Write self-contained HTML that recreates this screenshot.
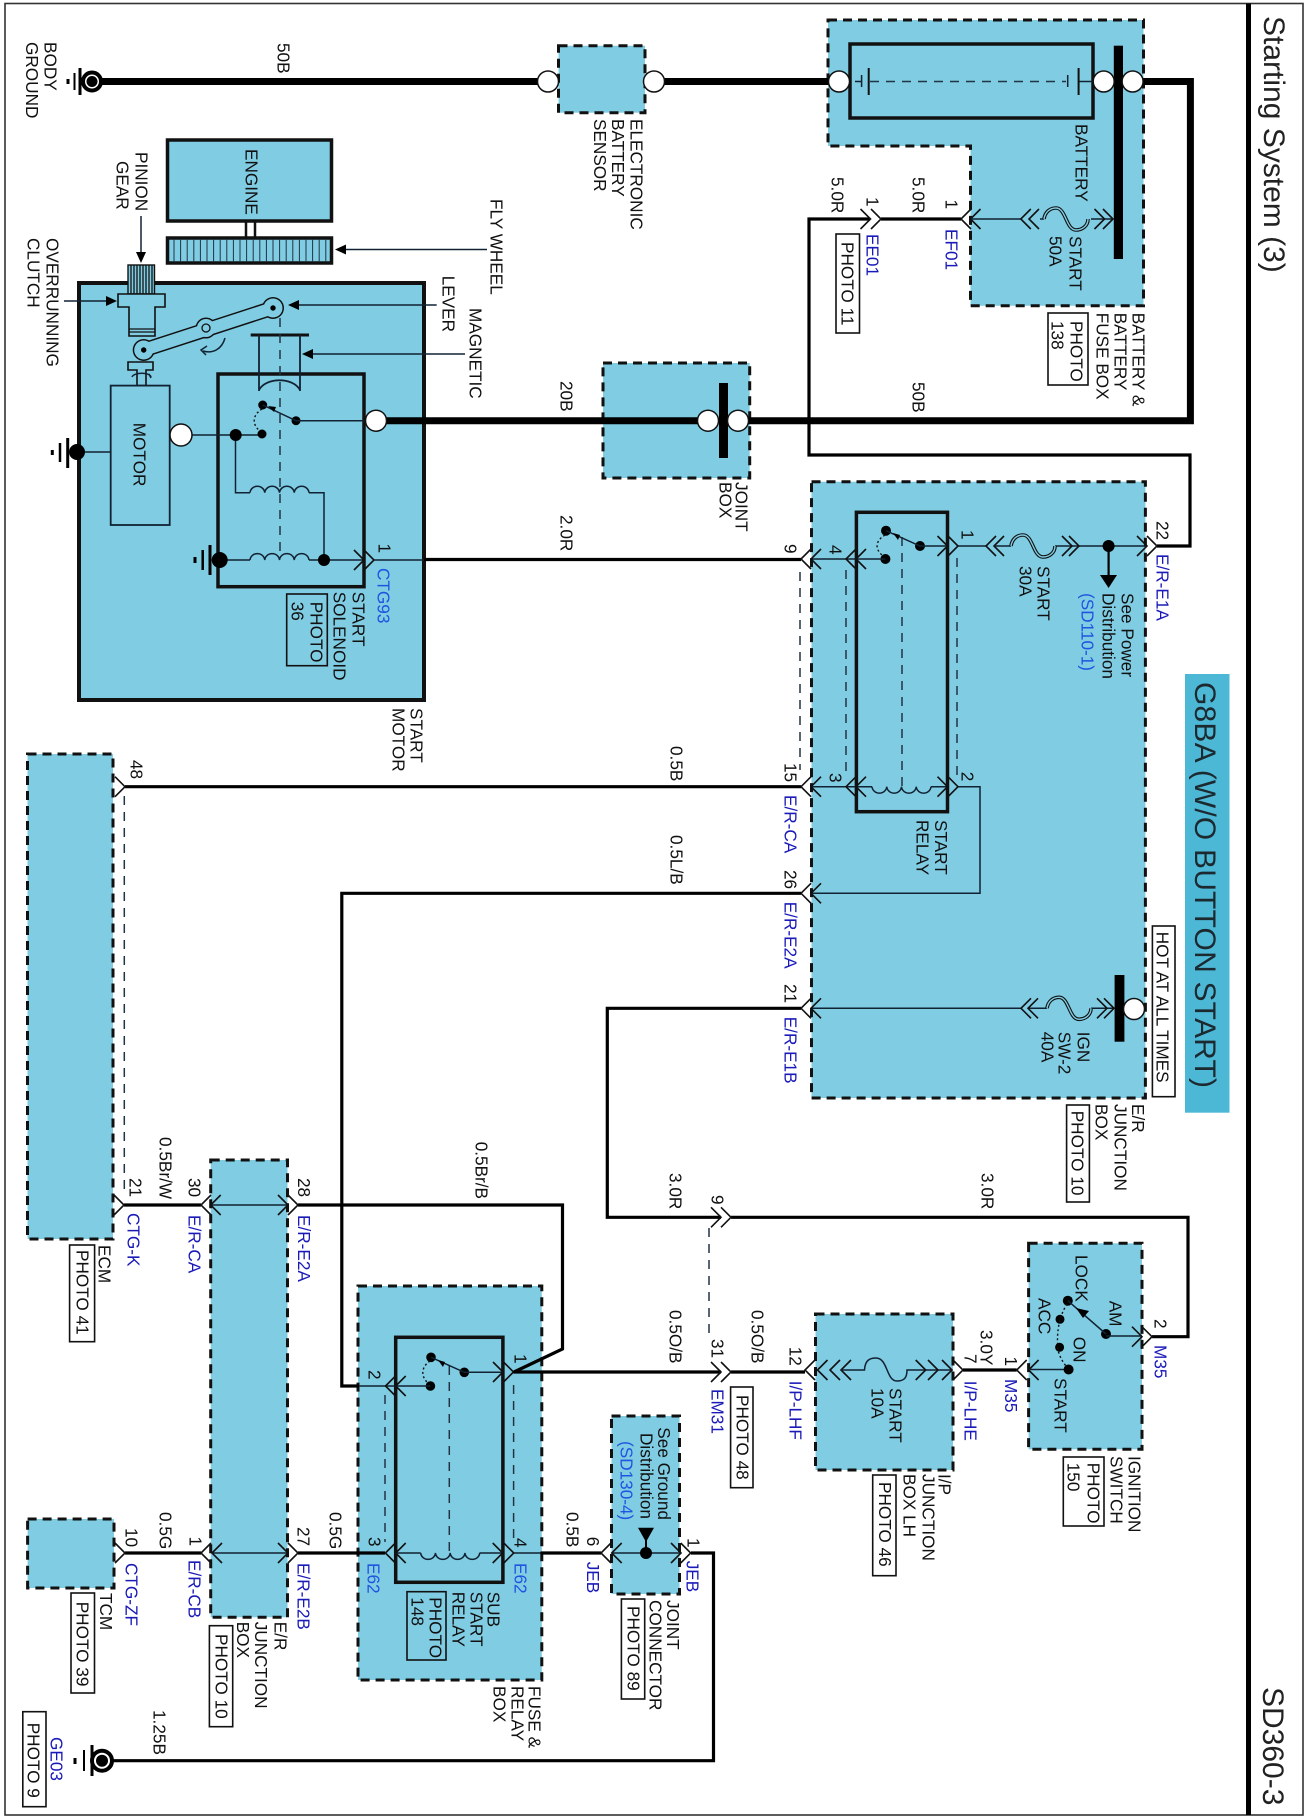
<!DOCTYPE html>
<html><head><meta charset="utf-8"><style>
html,body{margin:0;padding:0;background:#fff}
svg{display:block}
text{font-family:"Liberation Sans",sans-serif;font-size:17.2px;fill:#111}
.bl{fill:#1a1ab8}.lb{fill:#1f55e0}
.big{font-size:30px;fill:#222}
.ban{font-size:30px;fill:#1c2a30}
.d{fill:#80cce3;stroke:#111;stroke-width:3;stroke-dasharray:9 6}
.s{fill:#80cce3;stroke:#111;stroke-width:3.5}
.n{fill:none;stroke:#111;stroke-width:3.5}
.p{fill:#fff;stroke:#111;stroke-width:1.6}
.w1{fill:none;stroke:#123;stroke-width:1.5}
.w3{fill:none;stroke:#000;stroke-width:3.2}
.w7{fill:none;stroke:#000;stroke-width:7}
.da{fill:none;stroke:#234;stroke-width:1.5;stroke-dasharray:9 7}
.do{fill:none;stroke:#111;stroke-width:1.4;stroke-dasharray:2 2.5}
.c{fill:none;stroke:#111;stroke-width:1.6}
.o{fill:#fff;stroke:#111;stroke-width:1.5}
.k{fill:#000;stroke:none}
</style></head><body>
<svg xmlns="http://www.w3.org/2000/svg" width="1307" height="1819" viewBox="0 0 1307 1819">
<defs>
<path id="r" class="c" d="M-10,-10L0,0L-10,10"/>
<path id="l" class="c" d="M10,-10L0,0L10,10"/>
<g id="f"><path d="M0,0C1,-7 6,-11 12,-11C22,-11 22,11 32,11C38,11 44,7 44,0" fill="none" stroke="#111" stroke-width="3.6"/><path d="M0,0C1,-7 6,-11 12,-11C22,-11 22,11 32,11C38,11 44,7 44,0" fill="none" stroke="#80cce3" stroke-width="1.4"/></g>
<path id="cu" class="w1" d="M0,0a7.4,7 0 0 1 14.75,0a7.4,7 0 0 1 14.75,0a7.4,7 0 0 1 14.75,0a7.4,7 0 0 1 14.75,0"/>
<path id="cd" class="w1" d="M0,0a7.4,7 0 0 0 14.75,0a7.4,7 0 0 0 14.75,0a7.4,7 0 0 0 14.75,0a7.4,7 0 0 0 14.75,0"/>
</defs>
<rect width="1307" height="1819" fill="#fff"/>
<rect x="5" y="3.5" width="1298" height="1811.5" fill="none" stroke="#333" stroke-width="1.6"/>
<rect x="1246" y="3.5" width="5" height="1811.5" fill="#000"/>
<rect x="1185" y="674" width="44.5" height="438.7" fill="#4db8d6"/>

<!-- dashed boxes -->
<rect class="d" x="558.5" y="45.7" width="86.5" height="67"/>
<path class="d" d="M828,20H1143.5V305.7H970.5V146H828Z"/>
<rect class="d" x="603" y="363" width="146.7" height="115"/>
<rect class="d" x="811.5" y="481.7" width="333.9" height="616.3"/>
<rect class="d" x="27.5" y="754" width="85.5" height="485"/>
<rect class="d" x="210.7" y="1160" width="76.8" height="457.3"/>
<rect class="d" x="358" y="1286" width="183.8" height="394"/>
<rect class="d" x="611.5" y="1416" width="68" height="178"/>
<rect class="d" x="815.5" y="1314" width="137.5" height="156"/>
<rect class="d" x="1028.6" y="1243.3" width="113.4" height="206"/>
<rect class="d" x="27.6" y="1519" width="86.4" height="69"/>

<!-- start motor -->
<rect x="79" y="283" width="345" height="417" fill="#80cce3" stroke="#111" stroke-width="4"/>
<rect class="n" x="218" y="374" width="146" height="212.7"/>

<!-- engine + flywheel -->
<rect class="s" x="167.5" y="140" width="164" height="81"/>
<path d="M246,221V238M255,221V238" stroke="#111" stroke-width="2.5" fill="none"/>
<rect class="s" x="167.5" y="238" width="164" height="25" stroke-width="3"/>
<path d="M174,239V262M180.6,239V262M187.2,239V262M193.8,239V262M200.4,239V262M207,239V262M213.6,239V262M220.2,239V262M226.8,239V262M233.4,239V262M240,239V262M246.6,239V262M253.2,239V262M259.8,239V262M266.4,239V262M273,239V262M279.6,239V262M286.2,239V262M292.8,239V262M299.4,239V262M306,239V262M312.6,239V262M319.2,239V262M325.8,239V262" stroke="#234" stroke-width="1" fill="none"/>
<!-- pinion, clutch -->
<rect x="128" y="265" width="26.5" height="29" fill="#80cce3" stroke="#111" stroke-width="1.4"/>
<path d="M131,265V294M134,265V294M137,265V294M140,265V294M143,265V294M146,265V294M149,265V294M152,265V294" stroke="#111" stroke-width="1.3" fill="none"/>
<path d="M118,294H165V307H155V336H129V307H118Z" fill="#80cce3" stroke="#111" stroke-width="1.6"/>
<path d="M129,329H155M129,332H155" stroke="#111" stroke-width="1.2"/>
<!-- lever -->
<path d="M143.7,350L273,308" stroke="#111" stroke-width="15"/>
<circle cx="143.7" cy="350" r="11" fill="#111"/><circle cx="206" cy="328" r="10.5" fill="#111"/><circle cx="273" cy="308" r="11" fill="#111"/>
<path d="M143.7,350L273,308" stroke="#80cce3" stroke-width="12"/>
<circle cx="143.7" cy="350" r="9.5" fill="#80cce3"/><circle cx="206" cy="328" r="9" fill="#80cce3"/><circle cx="273" cy="308" r="9.5" fill="#80cce3"/>
<circle cx="143.7" cy="350" r="2.7" fill="#000"/><circle cx="273" cy="308" r="2.7" fill="#000"/>
<circle cx="206" cy="328" r="4" fill="#80cce3" stroke="#111" stroke-width="1.3"/>
<path d="M225,338C222,349 213,354 203,351" class="w1"/><path d="M207,346L201,350L206,355" class="w1"/>
<!-- motor -->
<path d="M128,362H153V370H146V385.6H137V370H128Z" fill="#80cce3" stroke="#111" stroke-width="1.6"/>
<path d="M132,377C134,372 150,372 151,377M149,374L151,378" class="w1"/>
<rect x="110.7" y="385.6" width="59" height="139.4" fill="#80cce3" stroke="#123" stroke-width="1.8"/>
<!-- magnetic -->
<path d="M250.7,335H309" stroke="#111" stroke-width="3"/>
<path d="M259,335V391M300,335V391M259,390C266,377 293,377 300,390" fill="none" stroke="#123" stroke-width="1.8"/>
<path class="da" d="M280,318V553"/>
<path d="M192,435H262M235.5,435V492.7H250M309,492.7H324V560M227,560H250M309,560H364" class="w1"/>
<use href="#cu" x="250" y="492.7"/><use href="#cu" x="250" y="560"/>
<circle class="k" cx="235.7" cy="435" r="6"/><circle class="k" cx="262" cy="434" r="4.5"/>
<circle class="k" cx="262.7" cy="405" r="4.5"/><circle class="k" cx="296" cy="420.7" r="4.5"/>
<path d="M262.7,405L296,420.7M296,420.7H365" class="w1"/><path class="do" d="M262,409C252,415 252,425 260,431"/>
<path class="k" d="M268,406L276,407L274,412Z"/>
<circle class="k" cx="219.7" cy="560" r="8"/><circle class="k" cx="324" cy="560" r="6"/>
<use href="#r" x="364" y="560"/><use href="#r" x="374" y="560"/>
<path d="M374,560H424" class="w1"/><path d="M424,559.5H801" class="w3"/>
<!-- motor ground -->
<path d="M85,452H110.7" class="w1"/><circle class="k" cx="77" cy="452" r="8"/>
<path d="M67.7,438V468" stroke="#000" stroke-width="3"/><path d="M60,443V462" stroke="#000" stroke-width="2.5"/><path d="M52.3,450V455" stroke="#000" stroke-width="3"/>
<path d="M210,545V575" stroke="#000" stroke-width="3"/><path d="M202.7,550V570" stroke="#000" stroke-width="2.5"/><path d="M195,557V563" stroke="#000" stroke-width="3"/>
<!-- motor arrows -->
<path d="M487,249.5H345M141,216V253M64,301H108M436.7,305H298M465,354H312" class="w1" stroke="#111"/>
<path class="k" d="M335,249.5L346,244.5V254.5ZM141,263L136,252H146ZM117,301L106,296V306ZM288,305L299,300V310ZM302,354L313,349V359Z"/>

<!-- heavy wires -->
<path d="M95,81.5H548M654,81.5H839" class="w7"/>
<path d="M1132,81.5H1190.4V420.7H738" class="w7"/>
<path d="M376,420.7H708" class="w7"/>
<!-- grounds -->
<circle cx="92" cy="81.5" r="9" fill="#fff" stroke="#000" stroke-width="4"/><circle class="k" cx="92" cy="81.5" r="5.5"/>
<path d="M80,68V95" stroke="#000" stroke-width="3"/><path d="M74.5,73V90" stroke="#000" stroke-width="2"/><path d="M68,79V84" stroke="#000" stroke-width="3"/>
<circle cx="102" cy="1760.7" r="10" fill="#fff" stroke="#000" stroke-width="4"/><circle class="k" cx="102" cy="1760.7" r="6"/>
<path d="M92,1745V1776" stroke="#000" stroke-width="3"/><path d="M84,1750V1771" stroke="#000" stroke-width="2"/><path d="M75,1758V1764" stroke="#000" stroke-width="3"/>
<!-- buses -->
<rect class="k" x="1113.8" y="45.7" width="9.2" height="213.3"/>
<rect class="k" x="719" y="383" width="9" height="75"/>
<rect class="k" x="1114.6" y="975" width="9.8" height="66.7"/>
<!-- battery -->
<rect class="n" x="850" y="44" width="243" height="74"/>
<path d="M855,81.5H862M1078,81.5H1093" class="w1"/><path d="M861.6,75V87M1067.7,75V87" class="w1"/><path d="M868.7,68V95M1078.6,68V95" stroke="#111" stroke-width="2"/>
<path class="da" d="M870,81.5H1066"/>
<!-- round terminals -->
<circle class="o" cx="548" cy="81.5" r="10.5"/><circle class="o" cx="654" cy="81.5" r="10.5"/><circle class="o" cx="839" cy="81.5" r="10.5"/><circle class="o" cx="1103.7" cy="81.5" r="10.5"/><circle class="o" cx="1132.6" cy="81.5" r="10.5"/>
<circle class="o" cx="708" cy="420.7" r="10.5"/><circle class="o" cx="738" cy="420.7" r="10.5"/><circle class="o" cx="376" cy="420.7" r="10.5"/><circle class="o" cx="181" cy="435" r="11"/><circle class="o" cx="1134" cy="1009" r="10.5"/>

<!-- 5.0R -->
<path d="M870,219H809V455H1190V546H1157M881,219H961" class="w3"/>
<use href="#r" x="870.5" y="219"/><use href="#r" x="881" y="219"/><use href="#l" x="961" y="219"/><use href="#l" x="970.5" y="219"/>
<path d="M971,219H1021M1040,219H1044M1091,219H1113" class="w1"/>
<use href="#l" x="1020.8" y="219"/><use href="#l" x="1029" y="219"/><use href="#f" x="1044" y="219"/><use href="#r" x="1104.5" y="219"/><use href="#r" x="1113" y="219"/>

<!-- E/R junction internals -->
<rect class="n" x="856.4" y="512.3" width="91.1" height="299.4"/>
<path class="da" d="M800,572V770M846,570V775M902,537V786M957,558V775"/>
<circle class="k" cx="920" cy="546" r="5"/><circle class="k" cx="886" cy="530.7" r="5"/><circle class="k" cx="885.4" cy="559" r="5"/>
<path d="M886,530.7L920,546H947M885.4,559H811" class="w1"/><path class="do" d="M885,535C875,541 875,549 882,555"/>
<path class="k" d="M893,533L900,535L898,540Z"/>
<path d="M958,546H986M1055,546H1147" class="w1"/>
<use href="#r" x="947.5" y="546"/><use href="#r" x="958" y="546"/><use href="#l" x="986" y="546"/><use href="#l" x="994" y="546"/><path d="M994,546H1011" class="w1"/>
<use href="#f" x="1011" y="546"/><use href="#r" x="1072" y="546"/><use href="#r" x="1079" y="546"/>
<use href="#r" x="1147" y="546"/><use href="#r" x="1157" y="546"/>
<circle class="k" cx="1108.6" cy="546" r="6"/><path d="M1108.6,546V577" stroke="#000" stroke-width="2.2"/><path class="k" d="M1100,575H1117L1108.6,588Z"/>
<use href="#l" x="846" y="559"/><use href="#l" x="856" y="559"/><use href="#l" x="801" y="559"/><use href="#l" x="811" y="559"/>
<!-- coil / 15 / 26 -->
<path d="M811,786.7H872M931,786.7H947M958,786.7H980V893.3H811" class="w1"/>
<use href="#cd" x="872" y="786.7"/>
<use href="#l" x="846" y="786.7"/><use href="#l" x="856" y="786.7"/><use href="#r" x="947.5" y="786.7"/><use href="#r" x="958" y="786.7"/>
<use href="#l" x="801" y="786.7"/><use href="#l" x="811" y="786.7"/><use href="#l" x="801" y="893.3"/><use href="#l" x="811" y="893.3"/>
<path d="M125,786.7H801" class="w3"/><use href="#r" x="125" y="786.7"/>
<path class="da" d="M124.3,796V1195"/>
<path d="M801,893.3H341.8V1386H359" class="w3"/>
<!-- 21 / ign -->
<path d="M811,1008.3H1021M1028,1008.3H1047M1091,1008.3H1114" class="w1"/>
<use href="#l" x="801" y="1008.3"/><use href="#l" x="811" y="1008.3"/><use href="#l" x="1021" y="1008.3"/><use href="#l" x="1028" y="1008.3"/><use href="#f" x="1047" y="1008.3"/><use href="#r" x="1107" y="1008.3"/><use href="#r" x="1114" y="1008.3"/>
<path d="M801,1008.3H607.3V1217.3H721M731,1217.3H1188V1336.7H1152" class="w3"/>
<use href="#r" x="721" y="1217.3"/><use href="#r" x="731" y="1217.3"/>
<path class="da" d="M709,1228V1340"/>

<!-- y=1205 -->
<path d="M124,1205H201M298,1205H562.5V1349L514,1372" class="w3"/>
<path d="M211,1205H288" class="w1"/>
<use href="#r" x="124" y="1205"/><use href="#l" x="201" y="1205"/><use href="#l" x="210.7" y="1205"/><use href="#r" x="288" y="1205"/><use href="#r" x="298" y="1205"/>

<!-- sub relay -->
<rect class="n" x="395.7" y="1337.3" width="107.2" height="245"/>
<path class="da" d="M385,1395V1542M449.3,1366V1553M513.6,1385V1540"/>
<circle class="k" cx="431" cy="1357.3" r="4.8"/><circle class="k" cx="464.3" cy="1372.3" r="4.8"/><circle class="k" cx="430.4" cy="1386" r="4.8"/>
<path d="M431,1357.3L464.3,1372.3H503M430.4,1386H359" class="w1"/><path class="do" d="M430,1361C421,1367 421,1376 427,1382"/>
<path class="k" d="M438,1360L445,1362L443,1367Z"/>
<use href="#l" x="385.5" y="1386"/><use href="#l" x="395.7" y="1386"/><use href="#r" x="503" y="1372"/><use href="#r" x="513.5" y="1372"/>
<path d="M513.5,1372H721M731,1372H805" class="w3"/>
<use href="#r" x="721" y="1372"/><use href="#r" x="731" y="1372"/>
<!-- I/P -->
<use href="#l" x="805" y="1370"/><use href="#l" x="817.5" y="1370"/><use href="#l" x="830" y="1370"/><use href="#l" x="841" y="1370"/>
<path d="M841,1370H864.5C865,1360 870,1358 876,1358C888,1358 886,1381 897,1381C904,1381 907,1378 907,1370H952" class="w1"/>
<use href="#r" x="925.7" y="1370"/><use href="#r" x="938" y="1370"/><use href="#r" x="952" y="1370"/><use href="#r" x="963" y="1370"/>
<path d="M963,1370H1016.7" class="w3"/>
<use href="#l" x="1016.7" y="1370"/><use href="#l" x="1028.6" y="1370"/>
<path d="M1029,1369.5H1068.6" class="w1"/>
<!-- ignition -->
<circle class="k" cx="1067.8" cy="1300.7" r="5"/><circle class="k" cx="1060" cy="1319.3" r="4.5"/><circle class="k" cx="1059.6" cy="1347.3" r="4.5"/><circle class="k" cx="1068.6" cy="1369.5" r="5"/><circle class="k" cx="1106" cy="1334" r="5"/>
<path d="M1106,1334L1067.8,1300.7" class="w1"/><path class="do" d="M1067,1304C1060,1315 1056,1330 1058,1350C1060,1358 1064,1364 1067,1367"/>
<path class="k" d="M1076,1308L1083,1318L1089,1311Z"/>
<path d="M1106,1336H1142" class="w1"/><use href="#r" x="1142" y="1336.7"/><use href="#r" x="1152" y="1336.7"/>

<!-- y=1553 chain -->
<path d="M125,1553H201M298,1553H385M540.5,1553H601" class="w3"/>
<path d="M212,1553H288M395,1553H420.7M479.5,1553H503M513.8,1553H540.5M611.7,1553H681" class="w1"/>
<use href="#r" x="125" y="1553"/><use href="#l" x="201" y="1553"/><use href="#l" x="212" y="1553"/><use href="#r" x="288" y="1553"/><use href="#r" x="298" y="1553"/><use href="#l" x="385.4" y="1553"/><use href="#l" x="395.7" y="1553"/><use href="#cd" x="420.7" y="1553"/><use href="#r" x="502.7" y="1553"/><use href="#r" x="513.8" y="1553"/><use href="#l" x="601" y="1553"/><use href="#l" x="611.7" y="1553"/><use href="#r" x="681" y="1553"/><use href="#r" x="690.7" y="1553"/>
<path d="M691,1553H713.5V1760.7H112" class="w3"/>
<circle class="k" cx="646" cy="1553" r="6"/><path d="M646,1540V1553" stroke="#000" stroke-width="2"/><path class="k" d="M638,1527.7H654L646,1542Z"/>

<!-- photo boxes -->
<rect class="p" x="836" y="234" width="23.5" height="99"/>
<rect class="p" x="1048" y="313" width="40" height="72"/>
<rect class="p" x="286.7" y="594" width="40.6" height="71.7" style="fill:none"/>
<rect class="p" x="1152.4" y="926" width="22.6" height="170.7"/>
<rect class="p" x="1066.6" y="1105" width="22.8" height="97"/>
<rect class="p" x="69.6" y="1245" width="25" height="96.7"/>
<rect class="p" x="71" y="1593" width="23.5" height="100"/>
<rect class="p" x="209.4" y="1625.7" width="23.3" height="101"/>
<rect class="p" x="22.8" y="1711.7" width="23.2" height="95"/>
<rect class="p" x="407" y="1591.7" width="39" height="68.3" style="fill:none"/>
<rect class="p" x="621.4" y="1599" width="23.3" height="100"/>
<rect class="p" x="730.6" y="1387" width="22.4" height="100.7"/>
<rect class="p" x="872.7" y="1475" width="23.3" height="100.7"/>
<rect class="p" x="1063.3" y="1457" width="40.7" height="69"/>

<!-- text -->
<g transform="translate(0.7,0)">
<text class="big" transform="translate(1263.5,16) rotate(90)">Starting System (3)</text>
<text class="big" transform="translate(1262.5,1687) rotate(90)">SD360-3</text>
<text class="ban" transform="translate(1194.5,682) rotate(90)" textLength="406">G8BA (W/O BUTTON START)</text>
<text transform="translate(44,42) rotate(90)">BODY</text>
<text transform="translate(25.5,42) rotate(90)">GROUND</text>
<text transform="translate(277,43) rotate(90)">50B</text>
<text transform="translate(630,119) rotate(90)">ELECTRONIC</text>
<text transform="translate(611.5,119) rotate(90)">BATTERY</text>
<text transform="translate(593.4,119) rotate(90)">SENSOR</text>
<text transform="translate(245,149) rotate(90)">ENGINE</text>
<text transform="translate(134.7,152) rotate(90)">PINION</text>
<text transform="translate(116,161) rotate(90)">GEAR</text>
<text transform="translate(490,199) rotate(90)">FLY WHEEL</text>
<text transform="translate(46,238) rotate(90)">OVERRUNNING</text>
<text transform="translate(27,238) rotate(90)">CLUTCH</text>
<text transform="translate(441.7,275.7) rotate(90)">LEVER</text>
<text transform="translate(469,308) rotate(90)">MAGNETIC</text>
<text transform="translate(133,422.7) rotate(90)">MOTOR</text>
<text transform="translate(560,381) rotate(90)">20B</text>
<text transform="translate(912,382) rotate(90)">50B</text>
<text transform="translate(560,515) rotate(90)">2.0R</text>
<text transform="translate(831,177) rotate(90)">5.0R</text>
<text transform="translate(912,177) rotate(90)">5.0R</text>
<text transform="translate(866,197) rotate(90)">1</text>
<text transform="translate(945,199.5) rotate(90)">1</text>
<text class="bl" transform="translate(866,234) rotate(90)">EE01</text>
<text class="bl" transform="translate(945,229) rotate(90)">EF01</text>
<text transform="translate(840.6,242) rotate(90)">PHOTO 11</text>
<text transform="translate(1075,124) rotate(90)">BATTERY</text>
<text transform="translate(1069,236) rotate(90)">START</text>
<text transform="translate(1049,236) rotate(90)">50A</text>
<text transform="translate(1132,312.7) rotate(90)">BATTERY &amp;</text>
<text transform="translate(1114,312.7) rotate(90)">BATTERY</text>
<text transform="translate(1096,312.7) rotate(90)">FUSE BOX</text>
<text transform="translate(1070,321) rotate(90)">PHOTO</text>
<text transform="translate(1051,321) rotate(90)">138</text>
<text transform="translate(735,482) rotate(90)">JOINT</text>
<text transform="translate(719,482) rotate(90)">BOX</text>
<text transform="translate(378,543.5) rotate(90)">1</text>
<text class="lb" transform="translate(376.7,568) rotate(90)">CTG93</text>
<text transform="translate(351.7,591.7) rotate(90)">START</text>
<text transform="translate(333,591.7) rotate(90)">SOLENOID</text>
<text transform="translate(310,601.7) rotate(90)">PHOTO</text>
<text transform="translate(291,601.7) rotate(90)">36</text>
<text transform="translate(410,708) rotate(90)">START</text>
<text transform="translate(392,708) rotate(90)">MOTOR</text>
<text transform="translate(1121,593) rotate(90)">See Power</text>
<text transform="translate(1101.6,593) rotate(90)">Distribution</text>
<text class="lb" transform="translate(1081,593) rotate(90)">(SD110-1)</text>
<text transform="translate(1036.8,566) rotate(90)">START</text>
<text transform="translate(1018.6,566) rotate(90)">30A</text>
<text transform="translate(1156,521) rotate(90)">22</text>
<text class="bl" transform="translate(1156,554) rotate(90)">E/R-E1A</text>
<text transform="translate(784,544) rotate(90)">9</text>
<text transform="translate(829,545) rotate(90)">4</text>
<text transform="translate(961,530) rotate(90)">1</text>
<text transform="translate(829,773) rotate(90)">3</text>
<text transform="translate(961,771.7) rotate(90)">2</text>
<text transform="translate(784,763) rotate(90)">15</text>
<text class="bl" transform="translate(784,795) rotate(90)">E/R-CA</text>
<text transform="translate(784,870) rotate(90)">26</text>
<text class="bl" transform="translate(784,901.7) rotate(90)">E/R-E2A</text>
<text transform="translate(784,984) rotate(90)">21</text>
<text class="bl" transform="translate(784,1016.7) rotate(90)">E/R-E1B</text>
<text transform="translate(934.5,820) rotate(90)">START</text>
<text transform="translate(916,820) rotate(90)">RELAY</text>
<text transform="translate(670,746) rotate(90)">0.5B</text>
<text transform="translate(670,835) rotate(90)">0.5L/B</text>
<text transform="translate(130,760) rotate(90)">48</text>
<text transform="translate(1077,1031.7) rotate(90)">IGN</text>
<text transform="translate(1058,1031.7) rotate(90)">SW-2</text>
<text transform="translate(1041,1031.7) rotate(90)">40A</text>
<text transform="translate(1156,931.7) rotate(90)">HOT AT ALL TIMES</text>
<text transform="translate(1131.4,1104) rotate(90)">E/R</text>
<text transform="translate(1114,1104) rotate(90)">JUNCTION</text>
<text transform="translate(1095,1104) rotate(90)">BOX</text>
<text transform="translate(1071,1110.7) rotate(90)">PHOTO 10</text>
<text transform="translate(981,1173) rotate(90)">3.0R</text>
<text transform="translate(669,1173) rotate(90)">3.0R</text>
<text transform="translate(711,1195) rotate(90)">9</text>
<text transform="translate(128.6,1178) rotate(90)">21</text>
<text class="bl" transform="translate(127,1213) rotate(90)">CTG-K</text>
<text transform="translate(159,1137) rotate(90)">0.5Br/W</text>
<text transform="translate(188,1178) rotate(90)">30</text>
<text class="bl" transform="translate(188,1215) rotate(90)">E/R-CA</text>
<text transform="translate(297.5,1178) rotate(90)">28</text>
<text class="bl" transform="translate(297.5,1215) rotate(90)">E/R-E2A</text>
<text transform="translate(475,1141.7) rotate(90)">0.5Br/B</text>
<text transform="translate(98,1245) rotate(90)">ECM</text>
<text transform="translate(75.7,1250) rotate(90)">PHOTO 41</text>
<text transform="translate(1074.7,1255) rotate(90)">LOCK</text>
<text transform="translate(1038,1298) rotate(90)">ACC</text>
<text transform="translate(1109,1300.7) rotate(90)">AM</text>
<text transform="translate(1072.7,1336.7) rotate(90)">ON</text>
<text transform="translate(1054,1378) rotate(90)">START</text>
<text class="bl" transform="translate(1154,1345) rotate(90)">M35</text>
<text transform="translate(1154,1319) rotate(90)">2</text>
<text class="bl" transform="translate(1004.5,1379) rotate(90)">M35</text>
<text transform="translate(1004.5,1356.5) rotate(90)">1</text>
<text transform="translate(964,1354) rotate(90)">7</text>
<text transform="translate(980,1330) rotate(90)">3.0Y</text>
<text class="bl" transform="translate(964,1380.7) rotate(90)">I/P-LHE</text>
<text class="bl" transform="translate(789,1380.7) rotate(90)">I/P-LHF</text>
<text transform="translate(789,1346.7) rotate(90)">12</text>
<text transform="translate(751,1310) rotate(90)">0.5O/B</text>
<text transform="translate(669,1310) rotate(90)">0.5O/B</text>
<text transform="translate(711,1339) rotate(90)">31</text>
<text class="bl" transform="translate(711,1389) rotate(90)">EM31</text>
<text transform="translate(736,1395) rotate(90)">PHOTO 48</text>
<text transform="translate(889,1388) rotate(90)">START</text>
<text transform="translate(870.6,1388) rotate(90)">10A</text>
<text transform="translate(938,1474) rotate(90)">I/P</text>
<text transform="translate(921.7,1474) rotate(90)">JUNCTION</text>
<text transform="translate(903,1474) rotate(90)">BOX LH</text>
<text transform="translate(878.3,1482) rotate(90)">PHOTO 46</text>
<text transform="translate(1128,1456) rotate(90)">IGNITION</text>
<text transform="translate(1110,1456) rotate(90)">SWITCH</text>
<text transform="translate(1086.7,1462.7) rotate(90)">PHOTO</text>
<text transform="translate(1066.7,1462.7) rotate(90)">150</text>
<text transform="translate(657.5,1427.3) rotate(90)">See Ground</text>
<text transform="translate(640,1433) rotate(90)">Distribution</text>
<text class="lb" transform="translate(620,1441) rotate(90)">(SD130-4)</text>
<text transform="translate(368,1370) rotate(90)">2</text>
<text transform="translate(514,1354) rotate(90)">1</text>
<text transform="translate(368,1537) rotate(90)">3</text>
<text transform="translate(514,1538) rotate(90)">4</text>
<text class="lb" transform="translate(367,1563) rotate(90)">E62</text>
<text class="lb" transform="translate(514,1563) rotate(90)">E62</text>
<text transform="translate(487,1591.7) rotate(90)">SUB</text>
<text transform="translate(470,1591.7) rotate(90)">START</text>
<text transform="translate(452,1591.7) rotate(90)">RELAY</text>
<text transform="translate(429,1597.3) rotate(90)">PHOTO</text>
<text transform="translate(410.6,1597.3) rotate(90)">148</text>
<text transform="translate(528,1686) rotate(90)">FUSE &amp;</text>
<text transform="translate(511,1686) rotate(90)">RELAY</text>
<text transform="translate(493,1686) rotate(90)">BOX</text>
<text transform="translate(125,1528) rotate(90)">10</text>
<text transform="translate(159,1512) rotate(90)">0.5G</text>
<text transform="translate(189,1536.5) rotate(90)">1</text>
<text class="bl" transform="translate(125,1563) rotate(90)">CTG-ZF</text>
<text class="bl" transform="translate(188,1560) rotate(90)">E/R-CB</text>
<text transform="translate(297,1527) rotate(90)">27</text>
<text class="bl" transform="translate(297,1563) rotate(90)">E/R-E2B</text>
<text transform="translate(328.6,1512) rotate(90)">0.5G</text>
<text transform="translate(565.7,1512) rotate(90)">0.5B</text>
<text transform="translate(586.5,1536.7) rotate(90)">6</text>
<text class="bl" transform="translate(586.5,1561.7) rotate(90)">JEB</text>
<text transform="translate(687,1538) rotate(90)">1</text>
<text class="bl" transform="translate(686,1560.7) rotate(90)">JEB</text>
<text transform="translate(152.7,1710) rotate(90)">1.25B</text>
<text class="bl" transform="translate(50,1737) rotate(90)">GE03</text>
<text transform="translate(26.7,1722.7) rotate(90)">PHOTO 9</text>
<text transform="translate(99.4,1593) rotate(90)">TCM</text>
<text transform="translate(76,1601.7) rotate(90)">PHOTO 39</text>
<text transform="translate(274,1621.7) rotate(90)">E/R</text>
<text transform="translate(254.5,1621.7) rotate(90)">JUNCTION</text>
<text transform="translate(236.5,1621.7) rotate(90)">BOX</text>
<text transform="translate(214.7,1634) rotate(90)">PHOTO 10</text>
<text transform="translate(666.5,1600) rotate(90)">JOINT</text>
<text transform="translate(648.6,1600) rotate(90)">CONNECTOR</text>
<text transform="translate(626.7,1606) rotate(90)">PHOTO 89</text>
</g>
</svg>
</body></html>
